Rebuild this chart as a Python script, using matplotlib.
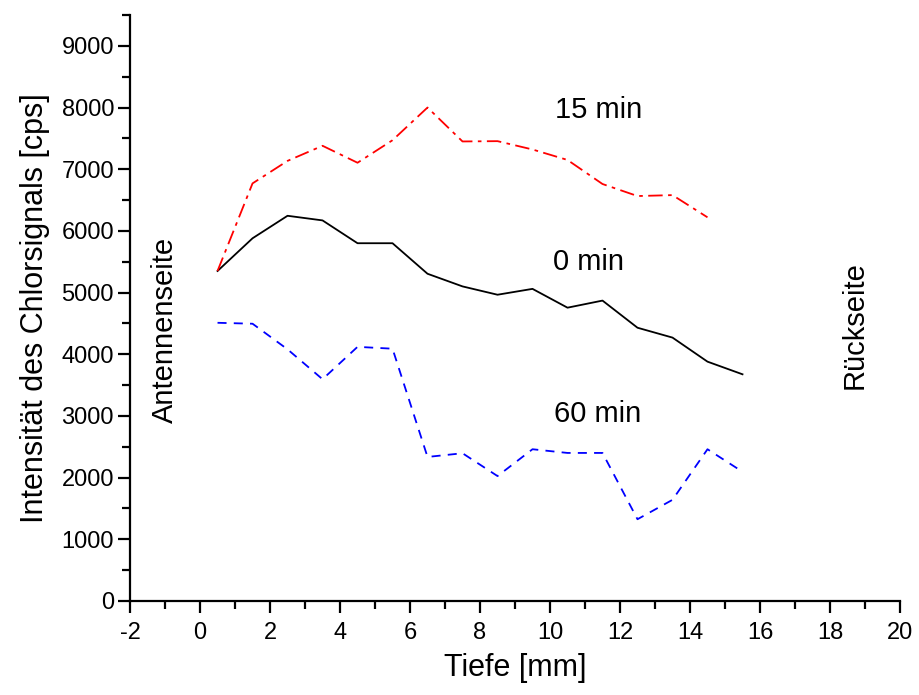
import matplotlib.pyplot as plt
from matplotlib.ticker import MultipleLocator

plt.rcParams['font.family'] = ['Liberation Sans', 'DejaVu Sans']
plt.rcParams['axes.unicode_minus'] = False

# depth positions [mm]
tiefe = [0.5, 1.5, 2.5, 3.5, 4.5, 5.5, 6.5, 7.5, 8.5, 9.5, 10.5, 11.5, 12.5, 13.5, 14.5, 15.5]

# chlorine signal [cps] after 0, 15 and 60 min
signal_0min = [5350, 5880, 6245, 6170, 5800, 5800, 5305, 5100, 4965, 5060, 4755, 4870, 4430, 4270, 3880, 3675]
signal_15min = [5350, 6770, 7135, 7380, 7105, 7470, 8000, 7450, 7455, 7320, 7150, 6760, 6565, 6580, 6220]
signal_60min = [4510, 4495, 4080, 3595, 4120, 4090, 2335, 2395, 2025, 2460, 2400, 2400, 1325, 1640, 2460, 2095]

fig = plt.figure(figsize=(9.19, 6.95), dpi=100)
ax = fig.add_axes([0.1415, 0.1353, 0.8378, 0.8431])

ax.plot(tiefe, signal_0min, color='black', lw=1.3, ls='-')
ax.plot(tiefe[:len(signal_15min)], signal_15min, color='red', lw=1.3, ls=(0, (8, 3, 2, 3)))
ax.plot(tiefe, signal_60min, color='blue', lw=1.3, ls=(0, (5, 4)))

ax.text(11.4, 7960, '15 min', fontsize=21, ha='center', va='center')
ax.text(11.1, 5500, '0 min', fontsize=21, ha='center', va='center')
ax.text(11.35, 3030, '60 min', fontsize=21, ha='center', va='center')
ax.text(-1.0, 4390, 'Antennenseite', fontsize=21, rotation=90, ha='center', va='center')
ax.text(18.7, 4470, 'Rückseite', fontsize=21, rotation=90, ha='center', va='center')

ax.set_xlim(-2, 20)
ax.set_ylim(0, 9500)
ax.xaxis.set_major_locator(MultipleLocator(2))
ax.xaxis.set_minor_locator(MultipleLocator(1))
ax.yaxis.set_major_locator(MultipleLocator(1000))
ax.yaxis.set_minor_locator(MultipleLocator(500))

for s in ['top', 'right']:
    ax.spines[s].set_visible(False)
for s in ['left', 'bottom']:
    ax.spines[s].set_linewidth(1.6)

ax.tick_params(which='major', direction='out', length=8.5, width=1.6, labelsize=17)
ax.tick_params(which='minor', direction='out', length=5.5, width=1.6)
ax.tick_params(axis='x', which='major', pad=7)
ax.tick_params(axis='y', which='major', pad=3)

ax.set_xlabel('Tiefe [mm]', fontsize=22, labelpad=6)
ax.set_ylabel('Intensität des Chlorsignals [cps]', fontsize=22, labelpad=8)

fig.savefig('out.png', dpi=100)
